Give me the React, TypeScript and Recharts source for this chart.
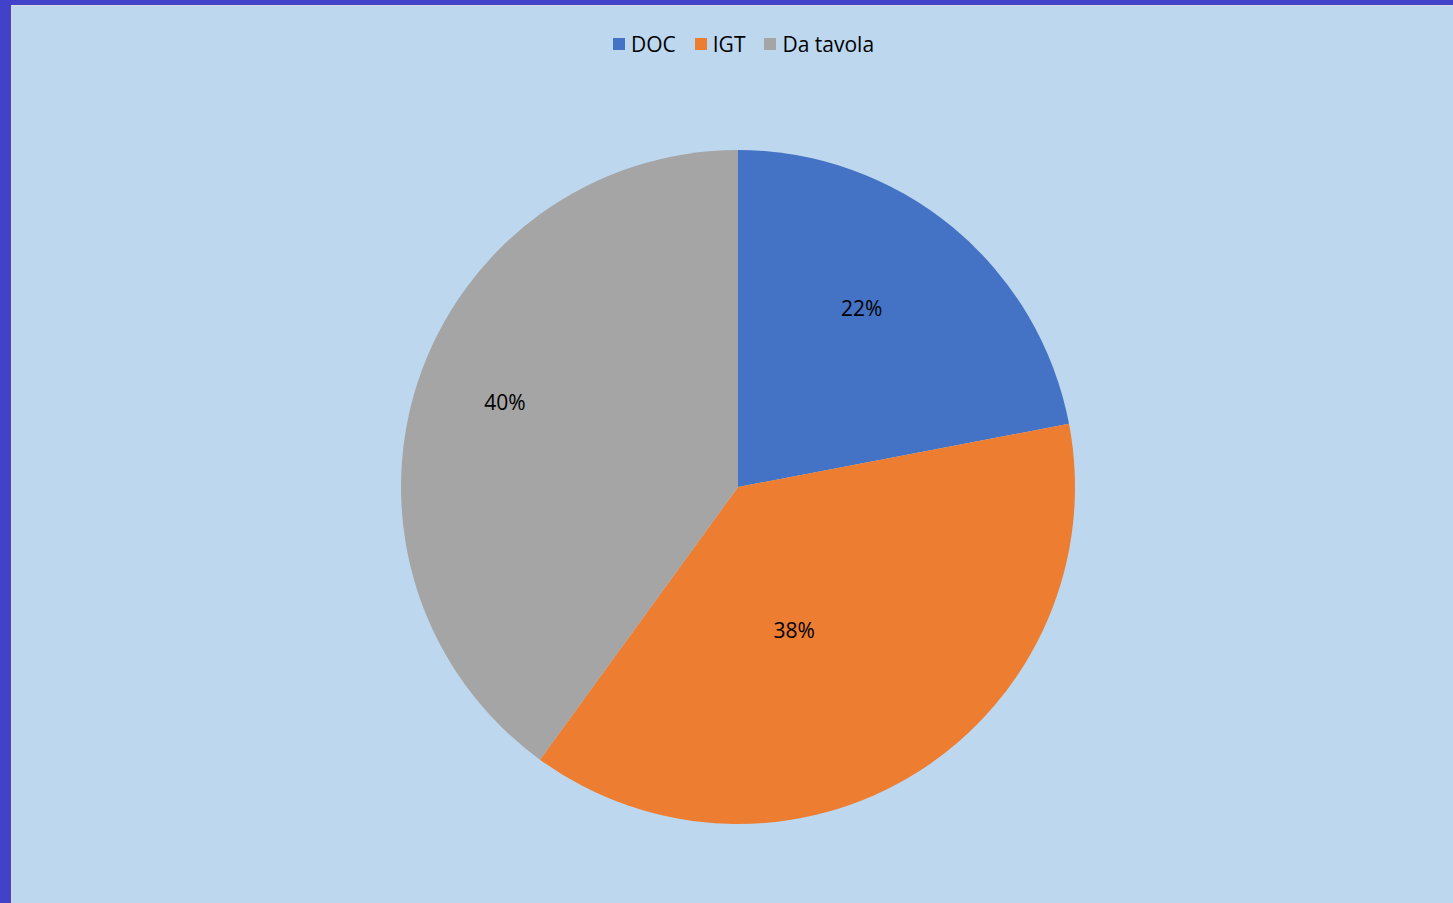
import React from 'react';
import { PieChart, Pie, Cell, Legend } from 'recharts';

const categories = ['DOC', 'IGT', 'Da tavola'];
const shares = [22, 38, 40];
const colors = ['#4472C4', '#ED7D31', '#A5A5A5'];
// label placement per slice: fraction of the radius, and clockwise nudge in degrees
const labelRadius = [0.647, 0.457, 0.736];
const labelTurn = [-5, 11, 2];

const data = categories.map((name, i) => ({ name, value: shares[i] }));

const RADIAN = Math.PI / 180;
const FONT = '"Open Sans", sans-serif';

const renderLabel = (props: any) => {
  const { cx, cy, midAngle, outerRadius, index, value } = props;
  const r = outerRadius * labelRadius[index];
  const a = (midAngle - labelTurn[index]) * RADIAN;
  const x = cx + r * Math.cos(-a);
  const y = cy + r * Math.sin(-a);
  return (
    <text x={x} y={y} textAnchor="middle" dominantBaseline="central" fill="#000" fontSize={21} fontFamily={FONT}>
      {`${value}%`}
    </text>
  );
};

const renderLegend = () => (
  <div style={{ display: 'flex', justifyContent: 'center', fontFamily: FONT, fontSize: 21, color: '#000' }}>
    {categories.map((name, i) => (
      <div key={name} style={{ display: 'flex', alignItems: 'center', marginRight: i < categories.length - 1 ? 19 : 0 }}>
        <span style={{ width: 12, height: 12, background: colors[i], marginRight: 6, display: 'inline-block' }} />
        <span>{name}</span>
      </div>
    ))}
  </div>
);

export default function App() {
  return (
    <div style={{ position: 'fixed', left: 0, top: 0, width: 1453, height: 903, background: '#4141C9', overflow: 'hidden' }}>
      <div
        style={{
          position: 'absolute',
          left: 11,
          top: 5,
          width: 1442,
          height: 898,
          background: '#BDD7EE',
          borderLeft: '1px solid #D9D9D9',
          borderTop: '1px solid #D9D9D9',
          boxSizing: 'border-box',
        }}
      >
        <PieChart width={1441} height={897}>
          <Legend verticalAlign="top" content={renderLegend} wrapperStyle={{ top: 24, left: 11, width: 1441 }} />
          <Pie
            data={data}
            dataKey="value"
            nameKey="name"
            cx={721}
            cy={448}
            outerRadius={337}
            startAngle={90}
            endAngle={-270}
            stroke="none"
            label={renderLabel}
            labelLine={false}
            isAnimationActive={false}
          >
            {data.map((entry, i) => (
              <Cell key={entry.name} fill={colors[i]} />
            ))}
          </Pie>
        </PieChart>
      </div>
    </div>
  );
}
